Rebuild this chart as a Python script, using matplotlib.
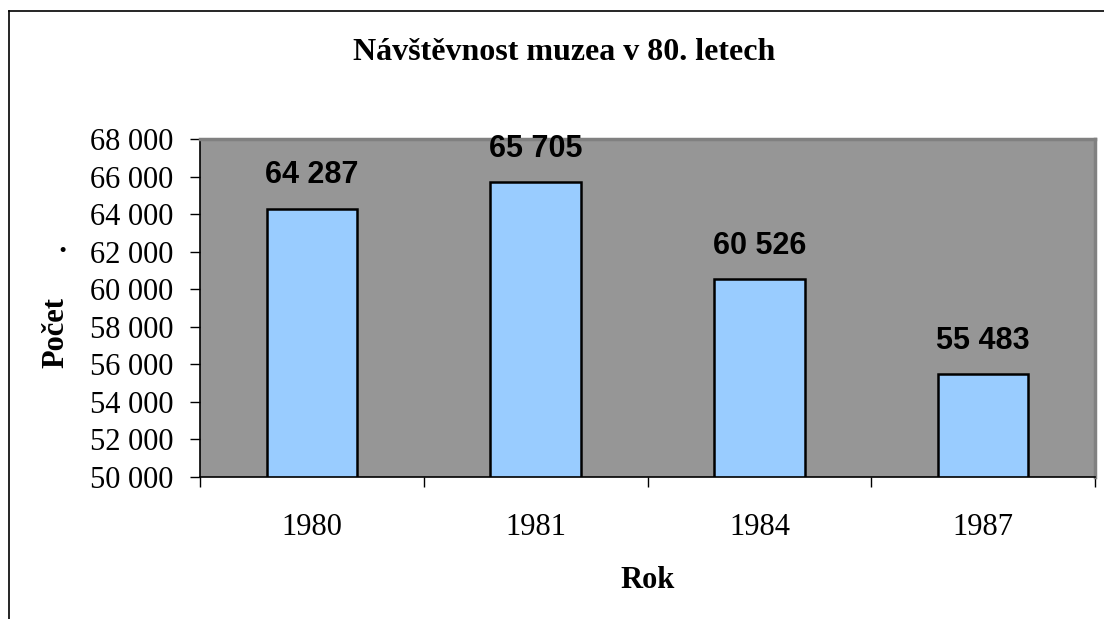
import numpy as np
import matplotlib
matplotlib.use("Agg")
from matplotlib import pyplot as plt
from matplotlib.lines import Line2D
from matplotlib.ticker import FuncFormatter

years = ['1980', '1981', '1984', '1987']
visitors = [64287, 65705, 60526, 55483]
y_ticks = list(range(50000, 68001, 2000))

SERIF = 'Liberation Serif'
SANS = 'Liberation Sans'


def cz(v, pos=None):
    # thousands separated by a space
    return '{:,}'.format(int(v)).replace(',', ' ')


fig = plt.figure(figsize=(11.04, 6.19), dpi=100)
fig.patch.set_facecolor('white')

# outer frame of the chart object (only left and top visible)
fig.add_artist(Line2D([8.5 / 1104, 8.5 / 1104], [0, 1 - 10.5 / 619],
                      transform=fig.transFigure, color='black', lw=1.2))
fig.add_artist(Line2D([8.5 / 1104, 1], [1 - 10.5 / 619, 1 - 10.5 / 619],
                      transform=fig.transFigure, color='black', lw=1.2))

ax = fig.add_axes([200 / 1104, 1 - 477 / 619, 895 / 1104, 338 / 619])
ax.set_facecolor('#969696')

x = np.arange(len(years))
bars = ax.bar(x, visitors, width=0.405, color='#99CCFF', edgecolor='black',
              linewidth=1.8, zorder=2)
ax.set_xlim(-0.5, len(years) - 0.5)
ax.set_ylim(50000, 68000)

ax.set_yticks(y_ticks)
ax.yaxis.set_major_formatter(FuncFormatter(cz))
ax.set_xticks(x)
ax.set_xticklabels(years)
ax.set_xticks(np.arange(len(years) + 1) - 0.5, minor=True)
ax.tick_params(axis='x', which='major', length=0, pad=26)
ax.tick_params(axis='x', which='minor', length=7, width=1, direction='out')
ax.tick_params(axis='y', length=7, width=1, direction='out', pad=12)
for lab in ax.get_xticklabels() + ax.get_yticklabels():
    lab.set_fontfamily(SERIF)
    lab.set_fontsize(22)

for side in ['left', 'bottom']:
    ax.spines[side].set_color('black')
    ax.spines[side].set_linewidth(1.2)
for side in ['top', 'right']:
    ax.spines[side].set_color('#808080')
    ax.spines[side].set_linewidth(2.5)

for b, v in zip(bars, visitors):
    ax.annotate(cz(v), (b.get_x() + b.get_width() / 2, v),
                xytext=(0, 24), textcoords='offset points',
                ha='center', va='center', fontsize=22,
                fontweight='bold', fontfamily=SANS)

fig.text(564 / 1104, 1 - 53 / 619,
         'Návštěvnost muzea v 80. letech', ha='center', va='center',
         fontsize=23, fontweight='bold', fontfamily=SERIF)
fig.text(648 / 1104, 1 - 580 / 619, 'Rok', ha='center', va='center',
         fontsize=22, fontweight='bold', fontfamily=SERIF)
fig.text(56 / 1104, 1 - 333 / 619, 'Počet', ha='center', va='center',
         rotation=90, fontsize=22, fontweight='bold', fontfamily=SERIF)
fig.text(62 / 1104, 1 - 252 / 619, '·', ha='center', va='center',
         fontsize=22, fontweight='bold', fontfamily=SERIF)

fig.savefig('out.png', dpi=100)
